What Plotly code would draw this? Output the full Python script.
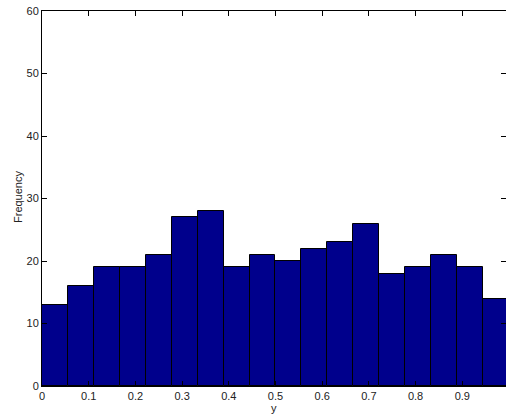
import plotly.graph_objects as go

bin_edges_start = [i / 18 for i in range(18)]
bin_width = 1 / 18
counts = [13, 16, 19, 19, 21, 27, 28, 19, 21, 20, 22, 23, 26, 18, 19, 21, 19, 14]
x_ticks = [0, 0.1, 0.2, 0.3, 0.4, 0.5, 0.6, 0.7, 0.8, 0.9, 1.0]
x_tick_labels = ["0", "0.1", "0.2", "0.3", "0.4", "0.5", "0.6", "0.7", "0.8", "0.9", "1"]
y_ticks = [0, 10, 20, 30, 40, 50, 60]

centers = [s + bin_width / 2 for s in bin_edges_start]

fig = go.Figure(go.Bar(
    x=centers, y=counts, width=bin_width,
    marker=dict(color="rgb(0,0,140)", line=dict(color="black", width=1)),
))

font = dict(family="Liberation Sans, Arial, sans-serif", size=11, color="#222")
fig.update_layout(
    width=506, height=414,
    margin=dict(l=42, r=0, t=11, b=28),
    plot_bgcolor="white", paper_bgcolor="white",
    showlegend=False, bargap=0, font=font,
    annotations=[
        dict(text="y", xref="paper", yref="paper", x=(274 - 42) / 464, y=0, yshift=-14,
             xanchor="center", yanchor="top", showarrow=False, font=font),
        dict(text="Frequency", xref="paper", yref="paper", x=0, y=(386 - 197) / 375, xshift=-24,
             xanchor="center", yanchor="middle", textangle=-90, showarrow=False, font=font),
    ],
)
fig.update_xaxes(
    range=[0, 0.9936], tickvals=x_ticks, ticktext=x_tick_labels, automargin=False,
    ticks="inside", ticklen=5, tickcolor="black", mirror="ticks", ticklabeloverflow="allow",
    showline=True, linecolor="black", linewidth=1, showgrid=False, zeroline=False,
)
fig.update_yaxes(
    range=[0, 60], tickvals=y_ticks, automargin=False,
    ticks="inside", ticklen=5, tickcolor="black", mirror="ticks", ticklabeloverflow="allow",
    showline=True, linecolor="black", linewidth=1, showgrid=False, zeroline=False,
)
fig.write_html(
    "out.html",
    config={"displayModeBar": False},
    post_script="document.body.style.margin='0';document.body.style.overflow='hidden';",
)
